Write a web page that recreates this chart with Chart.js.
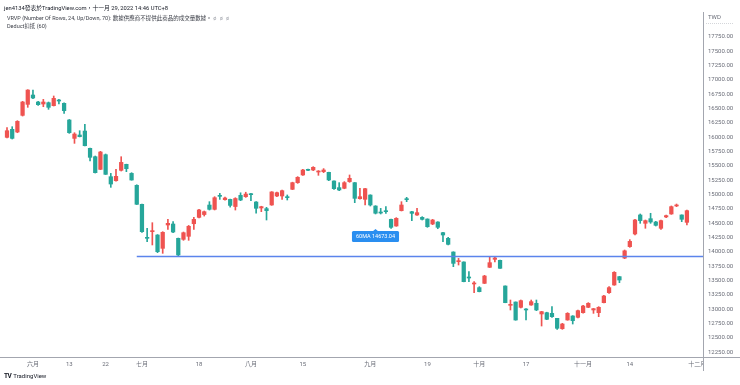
<!DOCTYPE html>
<html>
<head>
<meta charset="utf-8">
<script src="https://cdn.jsdelivr.net/npm/chart.js@4.4.0/dist/chart.umd.min.js"></script>
<style>
    html, body { margin: 0; padding: 0; background: #fff; }
    #wrap { position: relative; width: 740px; height: 385px; overflow: hidden; }
    #chart { position: absolute; left: 0; top: 0; }
    .txt { position: absolute; white-space: nowrap; font-family: Roboto, "Noto Sans CJK TC", sans-serif; }
    #title { left: 4px; top: 2.5px; font-size: 5.8px; color: #131722; }
    #vrvp { left: 7px; top: 14px; font-size: 5.5px; color: #3b3e47; }
    #vrvp span { color: #a0a3ab; letter-spacing: 1px; }
    #deduct { left: 7px; top: 22px; font-size: 5.5px; color: #3b3e47; }
    #logo { left: 4px; top: 372px; font-size: 6px; color: #131722; }
    #logo b { font-size: 6.5px; letter-spacing: -0.5px; margin-right: 2px; }
</style>
</head>
<body>
<div id="wrap">
    <canvas id="chart" width="740" height="385"></canvas>
    <div class="txt" id="title">jen4134發表於TradingView.com，十一月 29, 2022 14:46 UTC+8</div>
    <div class="txt" id="vrvp">VRVP (Number Of Rows, 24, Up/Down, 70): 數據供應商不提供此商品的成交量數據。 <span>ø ø ø</span></div>
    <div class="txt" id="deduct">Deduct扣抵 (60)</div>
    <div class="txt" id="logo"><b>TV</b>TradingView</div>
</div>
<script>
// Data (trading days, May 25 - Nov 29 2022)
const dates = [
    '05-25', '05-26', '05-27', '05-30', '05-31',
    '06-01', '06-02', '06-06', '06-07', '06-08', '06-09', '06-10', '06-13', '06-14', '06-15', '06-16', '06-17',
    '06-20', '06-21', '06-22', '06-23', '06-24', '06-27', '06-28', '06-29', '06-30',
    '07-01', '07-04', '07-05', '07-06', '07-07', '07-08', '07-11', '07-12', '07-13', '07-14', '07-15',
    '07-18', '07-19', '07-20', '07-21', '07-22', '07-25', '07-26', '07-27', '07-28', '07-29',
    '08-01', '08-02', '08-03', '08-04', '08-05', '08-08', '08-09', '08-10', '08-11', '08-12',
    '08-15', '08-16', '08-17', '08-18', '08-19', '08-22', '08-23', '08-24', '08-25', '08-26', '08-29', '08-30', '08-31',
    '09-01', '09-02', '09-05', '09-06', '09-07', '09-08', '09-12', '09-13', '09-14', '09-15', '09-16',
    '09-19', '09-20', '09-21', '09-22', '09-23', '09-26', '09-27', '09-28', '09-29', '09-30',
    '10-03', '10-04', '10-05', '10-06', '10-07', '10-11', '10-12', '10-13', '10-14',
    '10-17', '10-18', '10-19', '10-20', '10-21', '10-24', '10-25', '10-26', '10-27', '10-28', '10-31',
    '11-01', '11-02', '11-03', '11-04', '11-07', '11-08', '11-09', '11-10', '11-11',
    '11-14', '11-15', '11-16', '11-17', '11-18', '11-21', '11-22', '11-23', '11-24', '11-25', '11-28', '11-29'
];
const futureDates = ['11-30', '12-01', '12-02'];

const openV = [
    15998, 16138, 16091, 16382, 16574, 16737, 16615, 16580, 16603, 16551, 16650, 16592, 16301, 15980, 16039, 16108,
    15806, 15660, 15439, 15695, 15311, 15241, 15422, 15527, 15369, 15160, 14829, 14252, 14351, 14293, 14060, 14468,
    14485, 14235, 14217, 14270, 14490, 14601, 14650, 14816, 14741, 14985, 14910, 14915, 14790, 14985, 14962, 15008,
    14869, 14765, 14753, 14817, 14974, 14974, 14957, 15091, 15207, 15341, 15440, 15428, 15393, 15399, 15387, 15236,
    15120, 15108, 15225, 15207, 14927, 14916, 14991, 14799, 14689, 14712, 14566, 14450, 14718, 14921, 14700, 14642,
    14601, 14572, 14485, 14520, 14334, 14235, 13996, 13827, 13822, 13560, 13438, 13374, 13449, 13729, 13868, 13851,
    13403, 13065, 13123, 13030, 13001, 13071, 13100, 12914, 12937, 12925, 12838, 12658, 12809, 12879, 12856, 12937,
    13030, 12984, 12937, 13112, 13286, 13420, 13566, 13890, 14090, 14311, 14643, 14497, 14578, 14520, 14410, 14608,
    14660, 14800, 14643, 14514
];
const highV = [
    16167, 16184, 16289, 16627, 16830, 16824, 16627, 16661, 16615, 16720, 16661, 16600, 16310, 16079, 16114, 16225,
    15810, 15672, 15754, 15707, 15369, 15439, 15660, 15530, 15381, 15170, 14835, 14410, 14508, 14300, 14351, 14567,
    14526, 14240, 14345, 14460, 14601, 14741, 14712, 14875, 14962, 15020, 14955, 14920, 14944, 15030, 15040, 15020,
    14875, 14795, 14776, 15050, 15044, 15079, 14992, 15215, 15312, 15440, 15446, 15486, 15417, 15452, 15390, 15240,
    15207, 15225, 15341, 15210, 15108, 15108, 14995, 14805, 14758, 14788, 14570, 14596, 14875, 14951, 14705, 14758,
    14613, 14575, 14566, 14525, 14340, 14252, 14000, 13885, 13825, 13653, 13478, 13391, 13589, 13903, 13903, 13855,
    13405, 13158, 13125, 13158, 13007, 13158, 13158, 12960, 12945, 13042, 12840, 12751, 12937, 12885, 12984, 13065,
    13112, 13010, 13042, 13240, 13391, 13653, 13570, 14031, 14212, 14567, 14660, 14555, 14672, 14532, 14555, 14643,
    14800, 14834, 14645, 14730
];
const lowV = [
    15990, 15969, 16079, 16370, 16522, 16673, 16557, 16533, 16487, 16545, 16580, 16417, 16068, 15893, 16005, 15850,
    15585, 15375, 15435, 15350, 15125, 15235, 15410, 15399, 15250, 14825, 14340, 14177, 14119, 13985, 13973, 14392,
    14334, 13926, 14200, 14200, 14391, 14590, 14624, 14729, 14730, 14915, 14900, 14780, 14729, 14892, 14950, 14892,
    14675, 14700, 14555, 14811, 14962, 14916, 14904, 15085, 15195, 15335, 15417, 15417, 15335, 15382, 15242, 15091,
    15067, 15100, 15213, 14857, 14920, 14817, 14799, 14660, 14660, 14671, 14409, 14445, 14712, 14875, 14543, 14636,
    14555, 14427, 14473, 14403, 14177, 14118, 13740, 13769, 13475, 13478, 13286, 13300, 13445, 13725, 13822, 13708,
    13110, 12984, 12805, 13019, 12809, 13065, 12972, 12704, 12815, 12856, 12646, 12646, 12805, 12739, 12844, 12930,
    13025, 12925, 12867, 13108, 13275, 13415, 13461, 13880, 14078, 14293, 14497, 14410, 14497, 14450, 14392, 14596,
    14654, 14788, 14526, 14468
];
const closeV = [
    16114, 15980, 16277, 16615, 16824, 16685, 16568, 16615, 16522, 16679, 16632, 16464, 16079, 16056, 16010, 15852,
    15649, 15381, 15742, 15352, 15183, 15317, 15561, 15451, 15253, 14829, 14351, 14235, 14369, 14002, 14340, 14497,
    14345, 13944, 14333, 14445, 14566, 14730, 14700, 14741, 14944, 14968, 14939, 14810, 14930, 14904, 15008, 14997,
    14759, 14788, 14718, 15045, 15032, 15067, 14945, 15207, 15300, 15428, 15422, 15475, 15405, 15428, 15254, 15102,
    15079, 15207, 15283, 14933, 14962, 15102, 14817, 14673, 14677, 14700, 14427, 14584, 14817, 14910, 14671, 14683,
    14566, 14438, 14555, 14427, 14293, 14130, 13798, 13845, 13478, 13542, 13455, 13304, 13577, 13810, 13892, 13711,
    13112, 13083, 12809, 13147, 12984, 13129, 12984, 12955, 12821, 12867, 12664, 12739, 12925, 12797, 12972, 13053,
    13100, 13007, 13030, 13228, 13374, 13641, 13507, 14017, 14182, 14555, 14544, 14544, 14520, 14462, 14544, 14631,
    14788, 14817, 14567, 14718
];

// Axis labels
const xTickDates = ['06-01', '06-13', '06-22', '07-01', '07-18', '08-01', '08-15', '09-01', '09-19', '10-03', '10-17', '11-01', '11-14', '12-01'];
const xTickText = ['六月', '13', '22', '七月', '18', '八月', '15', '九月', '19', '十月', '17', '十一月', '14', '十二月'];
const yTicks = [12250, 12500, 12750, 13000, 13250, 13500, 13750, 14000, 14250, 14500, 14750, 15000,
    15250, 15500, 15750, 16000, 16250, 16500, 16750, 17000, 17250, 17500, 17750];

// Drawings
const rayStart = '06-30';
const rayValue = 13930;
const deductDate = '09-02';
const deductLabel = '60MA 14673.04';

// Colors
const upColor = '#ef5350';
const downColor = '#26a69a';
const axisColor = '#a3a6af';
const textColor = '#6a6d78';
const fontFamily = 'Roboto, "Noto Sans CJK TC", sans-serif';

Chart.defaults.font.family = fontFamily;

// Build
const allDates = dates.concat(futureDates);
const xTicks = xTickDates.map(d => allDates.indexOf(d));
const candleColors = dates.map((d, i) => closeV[i] >= openV[i] ? upColor : downColor);

const bodies = dates.map((d, i) => ({x: i, y: [Math.min(openV[i], closeV[i]), Math.max(openV[i], closeV[i])]}));
const wicks = dates.map((d, i) => ({x: i, y: [lowV[i], highV[i]]}));

const overlay = {
    id: 'overlay',
    afterDraw(chart) {
        const {ctx, chartArea, scales} = chart;
        const x = scales.x;
        const y = scales.y;
        ctx.save();

        // horizontal ray
        const ry = Math.round(y.getPixelForValue(rayValue)) + 0.5;
        ctx.strokeStyle = '#5b84ec';
        ctx.lineWidth = 1.5;
        ctx.beginPath();
        ctx.moveTo(x.getPixelForValue(dates.indexOf(rayStart)), ry);
        ctx.lineTo(chartArea.right, ry);
        ctx.stroke();

        // deduct label under the bar 60 days back
        const di = dates.indexOf(deductDate);
        const lx = x.getPixelForValue(di);
        const ly = y.getPixelForValue(lowV[di]) + 15;
        ctx.font = '5.5px ' + fontFamily;
        const tw = ctx.measureText(deductLabel).width;
        const bw = tw + 8;
        ctx.fillStyle = '#2a8ef0';
        ctx.beginPath();
        ctx.moveTo(lx, ly);
        ctx.lineTo(lx + 3, ly + 2.5);
        ctx.lineTo(lx - 3, ly + 2.5);
        ctx.closePath();
        ctx.fill();
        ctx.beginPath();
        ctx.roundRect(lx - bw / 2, ly + 2, bw, 11, 1.5);
        ctx.fill();
        ctx.fillStyle = '#fff';
        ctx.textAlign = 'center';
        ctx.textBaseline = 'middle';
        ctx.fillText(deductLabel, lx, ly + 7.8);

        // price axis area covers the clipped month label
        ctx.fillStyle = '#fff';
        ctx.fillRect(chartArea.right + 0.5, chartArea.bottom + 1, 40, 15);

        // currency
        ctx.fillStyle = '#6a6d78';
        ctx.font = '6px ' + fontFamily;
        ctx.textAlign = 'left';
        ctx.fillText('TWD', chartArea.right + 5, 17);
        ctx.strokeStyle = '#c9cbd1';
        ctx.lineWidth = 0.8;
        ctx.setLineDash([1, 1]);
        ctx.beginPath();
        ctx.moveTo(chartArea.right + 3, 23.5);
        ctx.lineTo(chartArea.right + 30, 23.5);
        ctx.stroke();
        ctx.setLineDash([]);

        // axis borders
        ctx.strokeStyle = axisColor;
        ctx.lineWidth = 1;
        ctx.beginPath();
        ctx.moveTo(0, Math.round(chartArea.bottom) + 0.5);
        ctx.lineTo(740, Math.round(chartArea.bottom) + 0.5);
        ctx.moveTo(Math.round(chartArea.right) + 0.5, 12);
        ctx.lineTo(Math.round(chartArea.right) + 0.5, chartArea.bottom + 14);
        ctx.stroke();
        ctx.restore();
    }
};

new Chart(document.querySelector('#chart'), {
    type: 'bar',
    data: {
        datasets: [
            {
                data: bodies,
                backgroundColor: candleColors,
                barThickness: 3.6,
                minBarLength: 1,
                grouped: false
            },
            {
                data: wicks,
                backgroundColor: candleColors,
                barThickness: 1,
                grouped: false
            }
        ]
    },
    options: {
        responsive: false,
        animation: false,
        layout: {padding: {top: 13}},
        plugins: {
            legend: {display: false},
            tooltip: {enabled: false}
        },
        scales: {
            x: {
                type: 'linear',
                min: -1.35,
                max: 134.1,
                offset: false,
                grid: {display: false, drawTicks: false},
                border: {display: false},
                afterBuildTicks: axis => {
                    axis.ticks = xTicks.map(v => ({value: v}));
                },
                afterFit: axis => {
                    axis.height = 28;
                },
                ticks: {
                    autoSkip: false,
                    maxRotation: 0,
                    padding: 4,
                    color: textColor,
                    font: {size: 6},
                    callback: (v, i) => xTickText[i]
                }
            },
            y: {
                position: 'right',
                min: 12163,
                max: 18169,
                grid: {display: false, drawTicks: false},
                border: {display: false},
                afterBuildTicks: axis => {
                    axis.ticks = yTicks.map(v => ({value: v}));
                },
                afterFit: axis => {
                    axis.width = 37;
                },
                ticks: {
                    padding: 5,
                    color: textColor,
                    font: {size: 6},
                    callback: v => v.toFixed(2)
                }
            }
        }
    },
    plugins: [overlay]
});
</script>
</body>
</html>
